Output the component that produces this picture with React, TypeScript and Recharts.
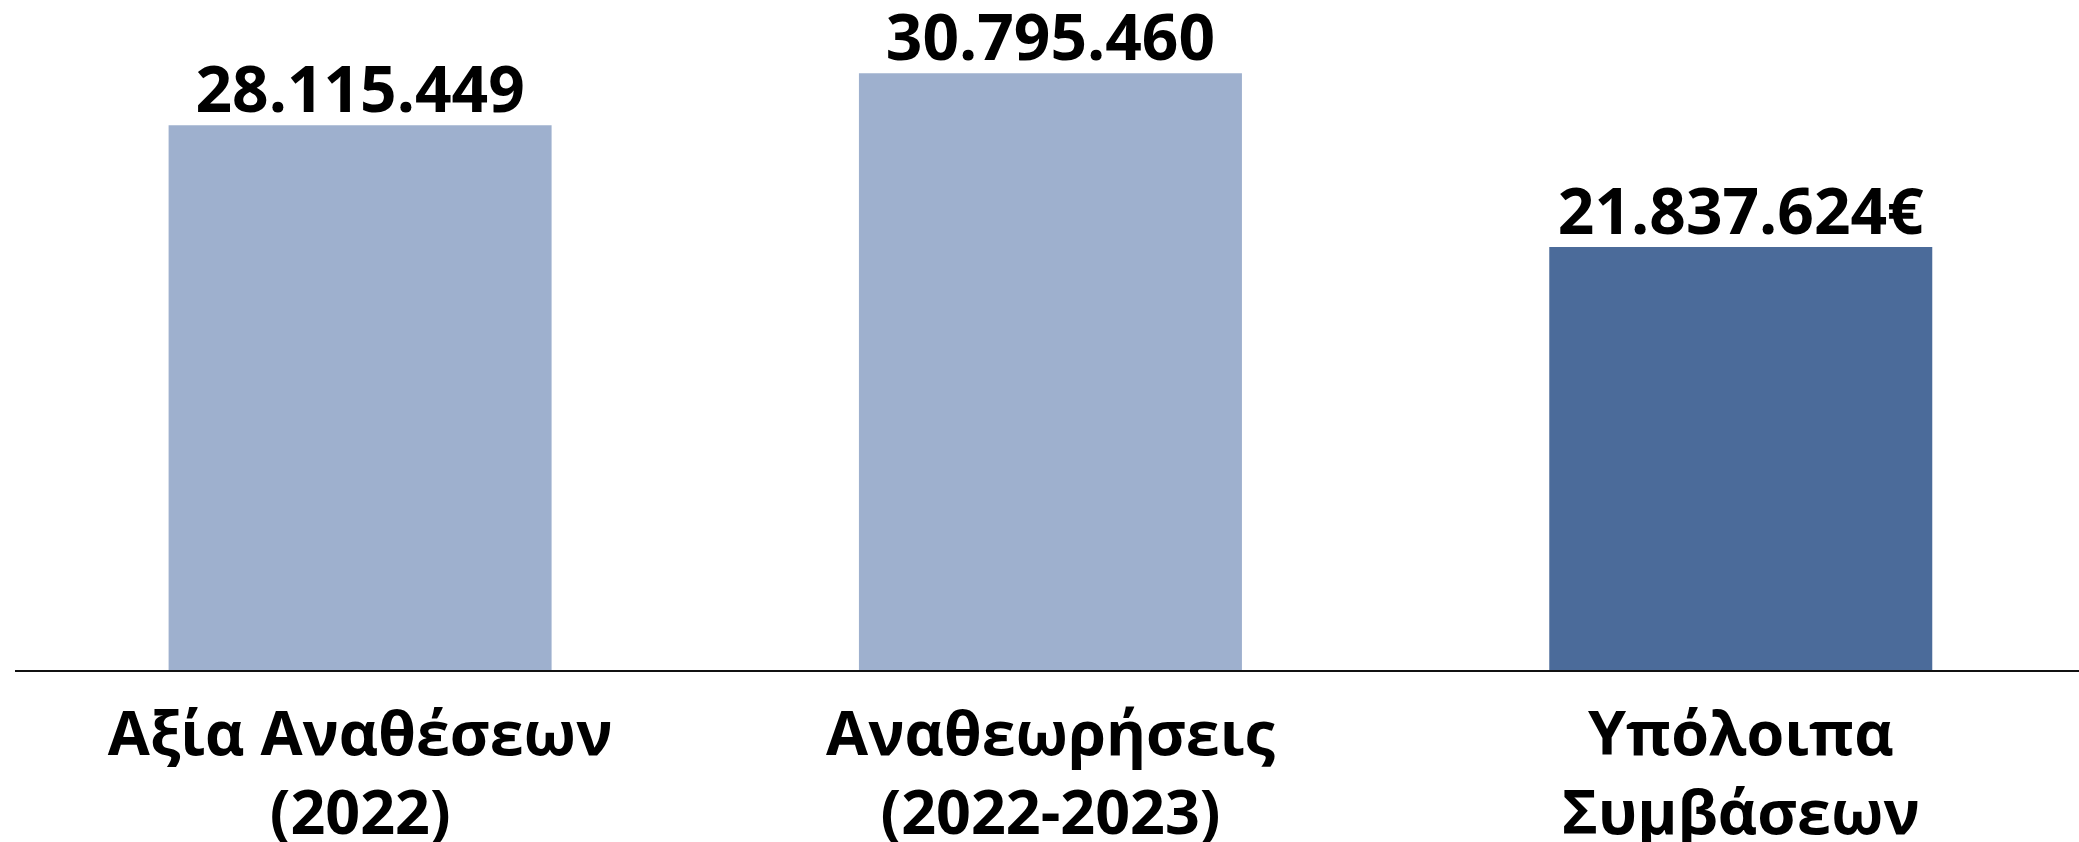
import React from "react";
import { BarChart, Bar, XAxis, YAxis, Cell, LabelList } from "recharts";

const categories = ["Αξία Αναθέσεων|(2022)", "Αναθεωρήσεις|(2022-2023)", "Υπόλοιπα|Συμβάσεων"];
const values = [28115449, 30795460, 21837624];
const valueLabels = ["28.115.449", "30.795.460", "21.837.624€"];
const barColors = ["#9EB0CE", "#9EB0CE", "#4B6B9A"];

const data = categories.map((c, i) => ({ name: c, value: values[i], label: valueLabels[i] }));

const FONT = "'Open Sans', 'Noto Sans', sans-serif";

const CategoryTick = (props: any) => {
  const { x, y, payload } = props;
  const lines = String(payload.value).split("|");
  return (
    <g>
      {lines.map((l: string, i: number) => (
        <text
          key={i}
          x={x}
          y={y + 76 + i * 79}
          textAnchor="middle"
          fontFamily={FONT}
          fontWeight={700}
          fontSize={61}
          fill="#000"
        >
          {l}
        </text>
      ))}
    </g>
  );
};

const ValueLabel = (props: any) => {
  const { x, y, width, index } = props;
  return (
    <text
      x={x + width / 2}
      y={y - 13}
      textAnchor="middle"
      fontFamily={FONT}
      fontWeight={700}
      fontSize={64}
      fill="#000"
    >
      {valueLabels[index]}
    </text>
  );
};

export default function App() {
  return (
    <div style={{ width: 2079, height: 842, background: "#fff", overflow: "hidden" }}>
      <style>{`body{margin:0;overflow:hidden;}`}</style>
      <BarChart
        width={2086}
        height={842}
        data={data}
        margin={{ top: 11, right: 0, left: 15, bottom: 0 }}
        barCategoryGap="22.25%"
      >
        <XAxis
          dataKey="name"
          height={171}
          tickLine={false}
          axisLine={{ stroke: "#111", strokeWidth: 2 }}
          tick={<CategoryTick />}
          interval={0}
        />
        <YAxis hide domain={[0, 34000000]} />
        <Bar dataKey="value" isAnimationActive={false}>
          {data.map((d, i) => (
            <Cell key={i} fill={barColors[i]} />
          ))}
          <LabelList dataKey="label" content={<ValueLabel />} />
        </Bar>
      </BarChart>
    </div>
  );
}
